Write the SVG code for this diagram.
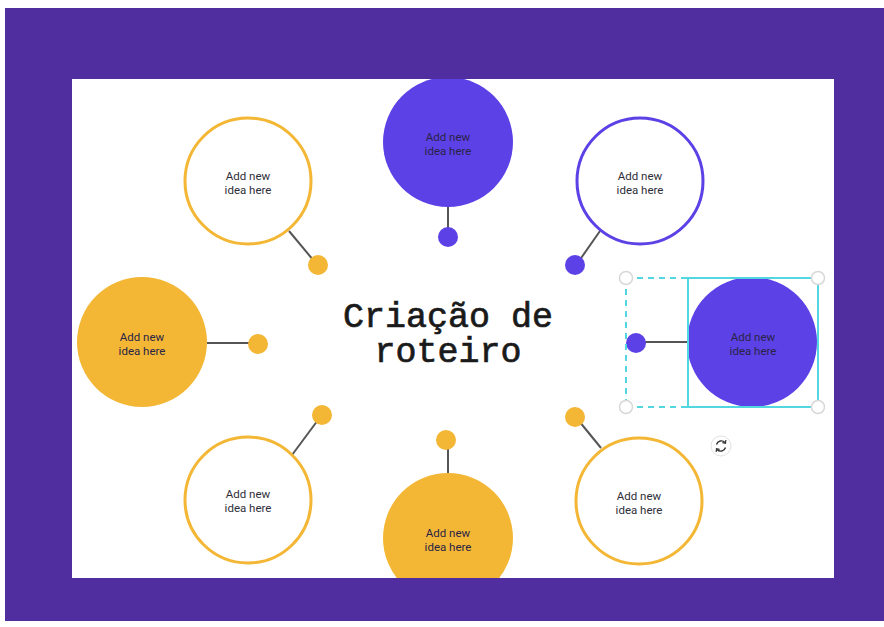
<svg xmlns="http://www.w3.org/2000/svg" width="884" height="627" viewBox="0 0 884 627">
<defs>
<style>
.lbl{font-family:Roboto,"Liberation Sans",Arial,sans-serif;font-size:11.5px;fill:#2e2e38;text-anchor:middle}
.lblf{font-family:Roboto,"Liberation Sans",Arial,sans-serif;font-size:11.5px;fill:#2a2346;text-anchor:middle}
.title{font-family:"Liberation Mono","DejaVu Sans Mono",monospace;font-size:35px;fill:#1a1a1a;stroke:#1a1a1a;stroke-width:0.7;text-anchor:middle}
.yo{fill:#ffffff;stroke:#f3b735;stroke-width:3}
.po{fill:#ffffff;stroke:#5c41e6;stroke-width:3}
.yf{fill:#f3b735}
.pf{fill:#5c41e6}
.conn line{stroke:#555555;stroke-width:2}
.handle{fill:#ffffff;stroke:#d8d8d8;stroke-width:1.5}
</style>
<clipPath id="canvas"><rect x="72" y="79" width="762" height="499"/></clipPath>
</defs>
<rect x="0" y="0" width="884" height="627" fill="#ffffff"/>
<rect x="5" y="8" width="879" height="613" fill="#512ea0"/>
<rect x="72" y="79" width="762" height="499" fill="#ffffff"/>
<g clip-path="url(#canvas)">
<g class="conn" id="connectors">
<line x1="448" y1="207" x2="448" y2="232"/>
<line x1="289" y1="231" x2="314" y2="261"/>
<line x1="600" y1="231" x2="579" y2="261"/>
<line x1="207" y1="343" x2="250" y2="343"/>
<line x1="688" y1="342" x2="642" y2="342"/>
<line x1="292" y1="455" x2="318" y2="420"/>
<line x1="448" y1="473" x2="448" y2="446"/>
<line x1="601" y1="448" x2="579" y2="421"/>
</g>
<g id="title"><text class="title" x="448" y="327"><tspan x="448" y="327">Criação de</tspan><tspan x="448" y="362">roteiro</tspan></text></g>
<g id="node-top"><circle class="pf" cx="448" cy="142" r="65"/><circle class="pf" cx="448" cy="237" r="10"/><text class="lblf" x="448" y="141">Add new</text><text class="lblf" x="448" y="155">idea here</text></g>
<g id="node-top-left"><circle class="yo" cx="248" cy="181" r="63"/><circle class="yf" cx="318" cy="265" r="10"/><text class="lbl" x="248" y="180">Add new</text><text class="lbl" x="248" y="194">idea here</text></g>
<g id="node-top-right"><circle class="po" cx="640" cy="181" r="63"/><circle class="pf" cx="575" cy="265" r="10"/><text class="lbl" x="640" y="180">Add new</text><text class="lbl" x="640" y="194">idea here</text></g>
<g id="node-left"><circle class="yf" cx="142" cy="342" r="65"/><circle class="yf" cx="258" cy="344" r="10"/><text class="lblf" x="142" y="341">Add new</text><text class="lblf" x="142" y="355">idea here</text></g>
<g id="node-right"><circle class="pf" cx="752" cy="342" r="65"/><circle class="pf" cx="636" cy="343" r="10"/><text class="lblf" x="753" y="341">Add new</text><text class="lblf" x="753" y="355">idea here</text></g>
<g id="node-bottom-left"><circle class="yo" cx="248" cy="500" r="63"/><circle class="yf" cx="322" cy="415" r="10"/><text class="lbl" x="248" y="498">Add new</text><text class="lbl" x="248" y="512">idea here</text></g>
<g id="node-bottom"><circle class="yf" cx="448" cy="538" r="65"/><circle class="yf" cx="446" cy="440" r="10"/><text class="lblf" x="448" y="537">Add new</text><text class="lblf" x="448" y="551">idea here</text></g>
<g id="node-bottom-right"><circle class="yo" cx="639" cy="501" r="63"/><circle class="yf" cx="575" cy="417" r="10"/><text class="lbl" x="639" y="500">Add new</text><text class="lbl" x="639" y="514">idea here</text></g>
<g id="selection">
<path d="M626 278 H688 M626 407 H688 M626 278 V407" fill="none" stroke="#52d6df" stroke-width="2" stroke-dasharray="6 5"/>
<rect x="688" y="278" width="130" height="129" fill="none" stroke="#52d6df" stroke-width="2"/>
<circle class="handle" cx="626" cy="278" r="6.5"/>
<circle class="handle" cx="818" cy="278" r="6.5"/>
<circle class="handle" cx="626" cy="407" r="6.5"/>
<circle class="handle" cx="818" cy="407" r="6.5"/>
<circle cx="721" cy="446" r="10" fill="#ffffff" stroke="#e2e2e2" stroke-width="1"/>
<path d="M716.5 444.5 A5 5 0 0 1 725 442.5 M725.5 447.5 A5 5 0 0 1 717 449.5" fill="none" stroke="#333" stroke-width="1.4"/>
<path d="M725.8 440 L725.5 443.2 L722.4 442.6 M716.2 452 L716.5 448.8 L719.6 449.4" fill="none" stroke="#333" stroke-width="1.2"/>
</g>
</g>
</svg>
